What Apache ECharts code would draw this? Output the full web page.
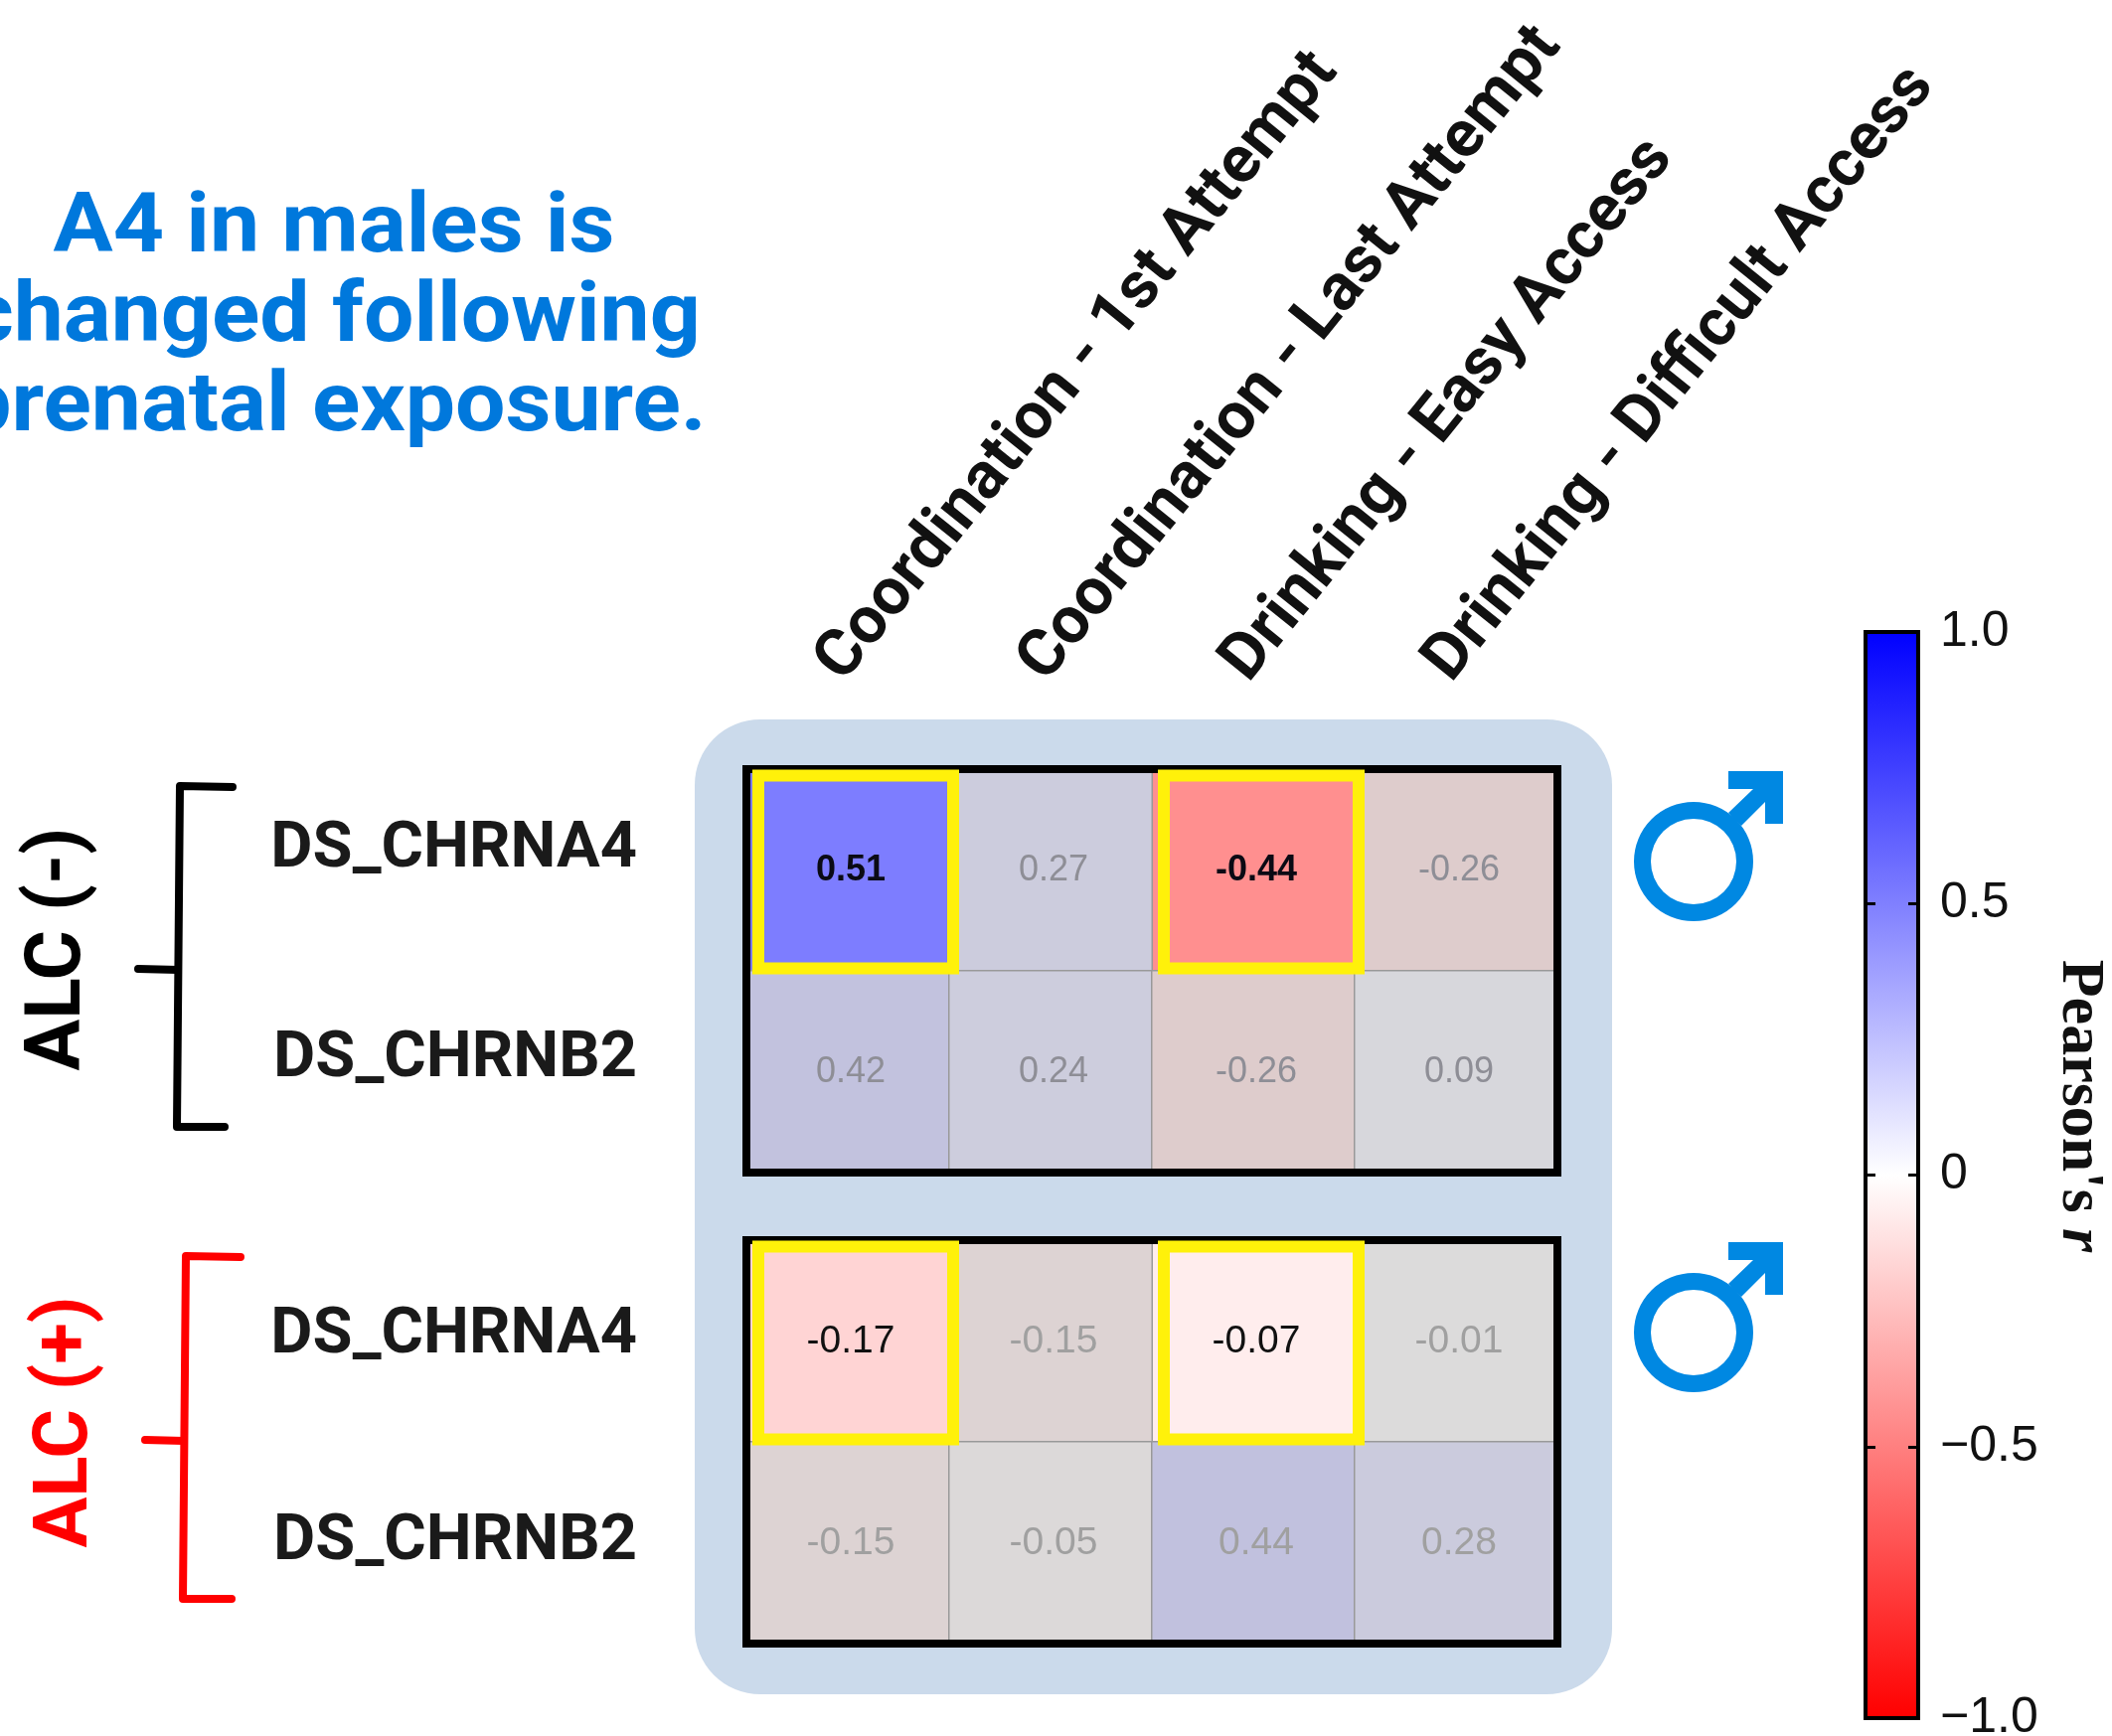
<!DOCTYPE html>
<html>
<head>
<meta charset="utf-8">
<title>A4 in males</title>
<script src="https://cdn.jsdelivr.net/npm/echarts@6/dist/echarts.min.js"></script>
<style>
  html, body { margin: 0; background: #fff; }
  #chart { width: 2125px; height: 1747px; }
</style>
</head>
<body>
<div id="chart"></div>
<script>
const traits = [
  'Coordination - 1st Attempt',
  'Coordination - Last Attempt',
  'Drinking - Easy Access',
  'Drinking - Difficult Access'
];
const genes = ['DS_CHRNA4', 'DS_CHRNB2'];
const alcNegRows = [
  [0.51, 0.27, -0.44, -0.26],
  [0.42, 0.24, -0.26, 0.09]
];
const alcPosRows = [
  [-0.17, -0.15, -0.07, -0.01],
  [-0.15, -0.05, 0.44, 0.28]
];
// cells outlined in yellow, as [column, row]
const highlighted = [[0, 0], [2, 0]];
const colorbarEnds = [1, -1];
const colorbarTicks = { '1': '1.0', '0.5': '0.5', '0': '0', '-0.5': '\u22120.5', '-1': '\u22121.0' };

const BLUE = '#0078dc';
const SANS = 'Roboto';

function isHighlighted(col, row) {
  return highlighted.some((h) => h[0] === col && h[1] === row);
}

function cells(rows, wantHighlighted) {
  const out = [];
  rows.forEach((vals, row) => vals.forEach((v, col) => {
    if (isHighlighted(col, row) === wantHighlighted) out.push([col, row, v]);
  }));
  return out;
}

function heatSeries(name, gridAxis, data, textColor, bold, fontSize) {
  return {
    name,
    type: 'heatmap',
    xAxisIndex: gridAxis,
    yAxisIndex: gridAxis,
    data,
    silent: true,
    z: 2,
    itemStyle: { borderColor: '#999', borderWidth: 1.5 },
    label: {
      show: true,
      offset: [3, 1],
      color: textColor,
      fontFamily: 'Liberation Sans',
      fontSize,
      fontWeight: bold ? 'bold' : 'normal',
      formatter: (p) => p.value[2].toFixed(2)
    }
  };
}

function outlineSeries(gridAxis) {
  return {
    type: 'custom',
    xAxisIndex: gridAxis,
    yAxisIndex: gridAxis,
    data: highlighted,
    silent: true,
    z: 6,
    renderItem: (params, api) => {
      const c = api.coord([api.value(0), api.value(1)]);
      return {
        type: 'rect',
        shape: { x: c[0] - 90, y: c[1] - 95, width: 196, height: 194 },
        style: { fill: 'none', stroke: '#fff10a', lineWidth: 12 }
      };
    }
  };
}

// padding-bottom per row lifts the label off the cell centre, as in the original
function heatAxes(gridIndex, showTraits, labelLift) {
  const line = { show: true, onZero: false, lineStyle: { color: '#000', width: 8, cap: 'square' } };
  const base = { type: 'category', gridIndex, z: 5, axisTick: { show: false }, axisLine: line, splitLine: { show: false } };
  const traitFont = { fontFamily: SANS, fontWeight: 'bold', fontSize: 66, color: '#111' };
  const x = [
    { ...base, data: traits, position: 'top', axisLabel: showTraits ? {
      show: true, interval: 0, rotate: -51, margin: 82, align: 'left', verticalAlign: 'middle',
      ...traitFont,
      formatter: (v) => `{t|${v}}`,
      rich: { t: { ...traitFont, padding: [0, 0, 46, 0] } }
    } : { show: false } },
    { ...base, data: traits, position: 'bottom', axisLabel: { show: false } }
  ];
  const baseRich = { fontFamily: SANS, fontWeight: 'bold', fontSize: 65, color: '#1a1a1a' };
  const y = [
    { ...base, inverse: true, position: 'left', data: genes,
      axisLabel: { show: true, interval: 0, margin: 110, ...baseRich,
        formatter: (v, i) => `{r${i}|${v}}`,
        rich: {
          r0: { ...baseRich, padding: [0, 0, labelLift[0], 0] },
          r1: { ...baseRich, padding: [0, 0, labelLift[1], 0] }
        } } },
    { ...base, inverse: true, position: 'right', data: genes, axisLabel: { show: false } }
  ];
  return { x, y };
}

function bracket(points, color) {
  return { type: 'polyline', z: 3, shape: { points }, style: { fill: 'none', stroke: color, lineWidth: 8, lineCap: 'round', lineJoin: 'round' } };
}

function maleSign(dy) {
  return {
    type: 'group', y: dy, children: [
      { type: 'ring', shape: { cx: 1704, cy: 867, r: 60, r0: 43 }, style: { fill: '#0088e2' } },
      { type: 'polygon', shape: { points: [[1739, 776], [1794, 776], [1794, 829], [1776, 829], [1776, 807], [1752, 831], [1739, 818], [1764, 794], [1739, 794]] }, style: { fill: '#0088e2' } }
    ]
  };
}

const negAxes = heatAxes(0, true, [40, 24]);
const posAxes = heatAxes(1, false, [10, 0]);

const barAxisBase = { gridIndex: 2, z: 5 };
const barLine = { show: true, onZero: false, lineStyle: { color: '#000', width: 4, cap: 'square' } };
const barTick = { show: true, inside: true, length: 10, lineStyle: { color: '#000', width: 3 } };

const chart = echarts.init(document.getElementById('chart'), null, { renderer: 'canvas' });
chart.setOption({
  animation: false,
  backgroundColor: '#fff',
  grid: [
    { left: 751, top: 774, width: 816, height: 406, outerBoundsMode: 'none' },
    { left: 751, top: 1248, width: 816, height: 406, outerBoundsMode: 'none' },
    { left: 1877, top: 636, width: 53, height: 1093, outerBoundsMode: 'none' }
  ],
  xAxis: [
    negAxes.x[0], negAxes.x[1], posAxes.x[0], posAxes.x[1],
    { ...barAxisBase, type: 'category', data: ['r'], position: 'bottom', axisLine: barLine, axisTick: { show: false }, axisLabel: { show: false } },
    { ...barAxisBase, type: 'category', data: ['r'], position: 'top', axisLine: barLine, axisTick: { show: false }, axisLabel: { show: false } }
  ],
  yAxis: [
    negAxes.y[0], negAxes.y[1], posAxes.y[0], posAxes.y[1],
    { ...barAxisBase, type: 'value', min: -1, max: 1, interval: 0.5, position: 'right', splitLine: { show: false },
      axisLine: barLine, axisTick: barTick,
      axisLabel: { margin: 22, align: 'left', padding: [4, 0, 0, 0], fontFamily: 'Liberation Sans', fontSize: 50, color: '#111',
        formatter: (v) => colorbarTicks[String(v)] } },
    { ...barAxisBase, type: 'value', min: -1, max: 1, interval: 0.5, position: 'left', splitLine: { show: false },
      axisLine: barLine, axisTick: barTick, axisLabel: { show: false } }
  ],
  visualMap: [
    { show: false, min: -1, max: 1, seriesIndex: [0, 2], inRange: { color: ['#ff0000', '#ffffff', '#0000ff'] } },
    { show: false, min: -1, max: 1, seriesIndex: [1, 3], inRange: { color: ['#e29f9f', '#dcdcdc', '#9f9fe1'] } }
  ],
  series: [
    heatSeries('ALC- significant', 0, cells(alcNegRows, true), '#0a0a14', true, 36),
    heatSeries('ALC- other', 0, cells(alcNegRows, false), '#8e8e96', false, 36),
    heatSeries('ALC+ significant', 2, cells(alcPosRows, true), '#111', false, 39),
    heatSeries('ALC+ other', 2, cells(alcPosRows, false), '#a0a0a0', false, 39),
    outlineSeries(0),
    outlineSeries(2),
    { type: 'bar', xAxisIndex: 4, yAxisIndex: 4, stack: 'bar', barWidth: '100%', silent: true, data: [colorbarEnds[0]],
      itemStyle: { color: new echarts.graphic.LinearGradient(0, 0, 0, 1, [{ offset: 0, color: '#0000ff' }, { offset: 1, color: '#ffffff' }]) } },
    { type: 'bar', xAxisIndex: 4, yAxisIndex: 4, stack: 'bar', barWidth: '100%', silent: true, data: [colorbarEnds[1]],
      itemStyle: { color: new echarts.graphic.LinearGradient(0, 0, 0, 1, [{ offset: 0, color: '#ffffff' }, { offset: 1, color: '#ff0000' }]) } }
  ],
  graphic: { elements: [
    { type: 'rect', z: -10, shape: { x: 699, y: 724, width: 923, height: 981, r: 66 }, style: { fill: '#cbdaeb' } },
    { type: 'text', x: 336, y: 322, scaleX: 1.065, z: 3, style: {
      text: 'A4 in males is\nchanged following\nprenatal exposure.',
      fontFamily: SANS, fontWeight: 'bold', fontSize: 84, lineHeight: 90,
      fill: BLUE, align: 'center', verticalAlign: 'middle'
    } },
    { type: 'text', x: 61, y: 955, rotation: Math.PI / 2, z: 3, style: {
      text: 'ALC (-)', fontFamily: SANS, fontWeight: 'bold', fontSize: 77, fill: '#000', align: 'center', verticalAlign: 'middle'
    } },
    { type: 'text', x: 68, y: 1431, rotation: Math.PI / 2, z: 3, style: {
      text: 'ALC (+)', fontFamily: SANS, fontWeight: 'bold', fontSize: 76, fill: '#ff0000', align: 'center', verticalAlign: 'middle'
    } },
    bracket([[234, 792], [181, 791], [178, 1134], [226, 1134]], '#000'),
    bracket([[139, 975], [179, 976]], '#000'),
    bracket([[242, 1265], [187, 1264], [184, 1609], [233, 1609]], '#ff0000'),
    bracket([[146, 1449], [185, 1450]], '#ff0000'),
    maleSign(0),
    maleSign(474),
    { type: 'text', x: 2092, y: 1113, rotation: -Math.PI / 2, z: 3, style: {
      text: "{a|Pearson's }{b|r}",
      align: 'center', verticalAlign: 'middle',
      rich: {
        a: { fontFamily: 'Liberation Serif', fontWeight: 'bold', fontSize: 62, fill: '#111' },
        b: { fontFamily: 'Liberation Serif', fontWeight: 'bold', fontStyle: 'italic', fontSize: 62, fill: '#111' }
      }
    } }
  ] }
});
</script>
</body>
</html>
